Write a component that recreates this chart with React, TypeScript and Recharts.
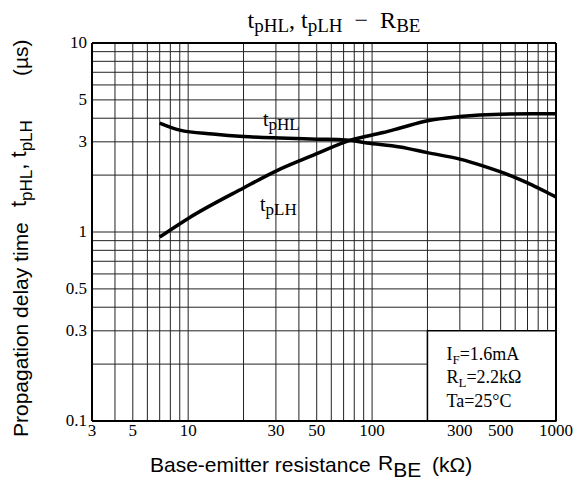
import React from 'react';
import { LineChart, Line, XAxis, YAxis, CartesianGrid, ReferenceLine, ReferenceArea, Customized } from 'recharts';

// R_BE (kΩ) and delay (µs)
const rbeHL = [7, 9, 13.6, 20, 31.5, 50, 72, 94, 142, 200, 300, 400, 500, 600, 700, 800, 1000];
const tpHL = [3.77, 3.46, 3.3, 3.2, 3.14, 3.1, 3.07, 2.96, 2.82, 2.63, 2.43, 2.24, 2.08, 1.94, 1.82, 1.71, 1.53];
const rbeLH = [7, 10, 20, 30, 48, 77, 115, 142, 200, 300, 500, 750, 1000];
const tpLH = [0.94, 1.18, 1.71, 2.1, 2.55, 3.07, 3.36, 3.55, 3.88, 4.08, 4.2, 4.22, 4.22];

const xTicks = [3, 5, 10, 30, 50, 100, 300, 500, 1000];
const yTicks = [0.1, 0.3, 0.5, 1, 3, 5, 10];
const xGrid = [3, 4, 5, 6, 7, 8, 9, 10, 20, 30, 40, 50, 60, 70, 80, 90, 100, 200, 300, 400, 500, 600, 700, 800, 900, 1000];
const yGrid = [0.1, 0.2, 0.3, 0.4, 0.5, 0.6, 0.7, 0.8, 0.9, 1, 2, 3, 4, 5, 6, 7, 8, 9, 10];

const serif = '"Liberation Serif", "Times New Roman", serif';
const sans = '"Liberation Sans", Arial, sans-serif';

const hlData = rbeHL.map((x, i) => ({ x, y: tpHL[i] }));
const lhData = rbeLH.map((x, i) => ({ x, y: tpLH[i] }));

const renderXTick = (props: any) => {
  const { x, y, payload } = props;
  return (
    <text x={x} y={y + 15} textAnchor="middle" fontFamily={serif} fontSize={17} fill="#000">
      {payload.value}
    </text>
  );
};

const renderYTick = (props: any) => {
  const { x, y, payload } = props;
  return (
    <text x={x} y={y + 5} textAnchor="end" fontFamily={serif} fontSize={17} fill="#000">
      {payload.value}
    </text>
  );
};

const ConditionsBox = (props: any) => {
  const { x, y } = props.viewBox;
  const lines = [
    { main: 'I', sub: 'F', rest: '=1.6mA' },
    { main: 'R', sub: 'L', rest: '=2.2kΩ' },
    { main: 'Ta=25°C', sub: '', rest: '' },
  ];
  return (
    <g fontFamily={serif} fontSize={18} fill="#000">
      {lines.map((l, i) => (
        <text key={i} x={x + 19} y={y + 29 + i * 23.5}>
          <tspan>{l.main}</tspan>
          {l.sub && <tspan dy={4} fontSize={13}>{l.sub}</tspan>}
          {l.rest && <tspan dy={l.sub ? -4 : 0}>{l.rest}</tspan>}
        </text>
      ))}
    </g>
  );
};

const Texts = () => (
  <g fill="#000">
    <text x={334} y={28} textAnchor="middle" fontFamily={serif} fontSize={24}>
      <tspan>t</tspan>
      <tspan dy={4} fontSize={19}>pHL</tspan>
      <tspan dy={-4}>, t</tspan>
      <tspan dy={4} fontSize={19}>pLH</tspan>
      <tspan dy={-4}>{'\u00a0\u00a0−\u00a0\u00a0R'}</tspan>
      <tspan dy={4} fontSize={19}>BE</tspan>
    </text>
    <g transform="rotate(-90)" fontFamily={sans} fontSize={21}>
      <text x={-437} y={28}>Propagation delay time</text>
      <text x={-207} y={26} fontSize={22}>
        <tspan>t</tspan>
        <tspan dy={6} fontSize={17}>pHL</tspan>
        <tspan dy={-6}>, t</tspan>
        <tspan dy={6} fontSize={17}>pLH</tspan>
      </text>
      <text x={-76} y={28}>(µs)</text>
    </g>
    <g fontFamily={sans} fontSize={21}>
      <text x={150} y={472}>Base-emitter resistance</text>
      <text x={378} y={470}>
        <tspan>R</tspan>
        <tspan dy={7}>BE</tspan>
      </text>
      <text x={432} y={472}>(kΩ)</text>
    </g>
    <g fontFamily={serif} fontSize={20}>
      <text x={263} y={126}>
        <tspan>t</tspan>
        <tspan dy={4} fontSize={17}>pHL</tspan>
      </text>
      <text x={260} y={211}>
        <tspan>t</tspan>
        <tspan dy={4} fontSize={17}>pLH</tspan>
      </text>
    </g>
  </g>
);

export default function App() {
  return (
    <div style={{ position: 'absolute', left: 0, top: 0, background: '#fff', fontFamily: serif }}>
      <LineChart width={579} height={486} margin={{ top: 43, right: 23, left: 0, bottom: 0 }} style={{ fontFamily: serif }}>
        <CartesianGrid
          stroke="#222"
          strokeWidth={1}
          horizontalValues={yGrid}
          verticalValues={xGrid}
        />
        <XAxis
          type="number"
          dataKey="x"
          scale="log"
          domain={[3, 1000]}
          ticks={xTicks}
          allowDataOverflow
          height={65}
          tickLine={false}
          tickSize={0}
          tickMargin={0}
          axisLine={{ stroke: '#000', strokeWidth: 2 }}
          tick={renderXTick}
          interval={0}
        />
        <YAxis
          type="number"
          dataKey="y"
          scale="log"
          domain={[0.1, 10]}
          ticks={yTicks}
          allowDataOverflow
          width={92}
          tickLine={false}
          tickSize={0}
          tickMargin={5}
          axisLine={{ stroke: '#000', strokeWidth: 2 }}
          tick={renderYTick}
          interval={0}
        />
        <ReferenceLine x={1000} stroke="#000" strokeWidth={2} />
        <ReferenceLine y={10} stroke="#000" strokeWidth={2} />
        <ReferenceArea
          x1={200}
          x2={1000}
          y1={0.1}
          y2={0.3}
          fill="#fff"
          fillOpacity={1}
          stroke="#000"
          strokeWidth={1.5}
          label={<ConditionsBox />}
        />
        <Line data={hlData} dataKey="y" type="monotone" stroke="#000" strokeWidth={3.5} dot={false} isAnimationActive={false} />
        <Line data={lhData} dataKey="y" type="monotone" stroke="#000" strokeWidth={3.5} dot={false} isAnimationActive={false} />
        <Customized component={Texts} />
      </LineChart>
    </div>
  );
}
